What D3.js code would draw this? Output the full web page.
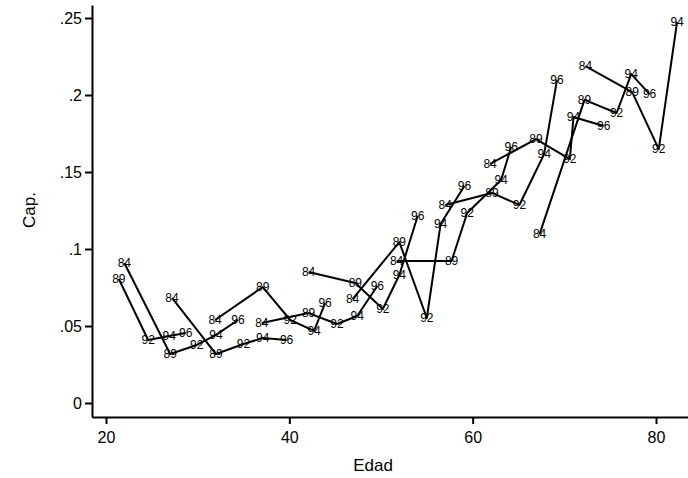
<!DOCTYPE html>
<html>
<head>
<meta charset="utf-8">
<script src="https://cdn.jsdelivr.net/npm/d3@7"></script>
<style>
  html, body { margin: 0; padding: 0; background: #fff; }
  svg { display: block; }
  text { font-family: "Liberation Sans", Arial, Helvetica, sans-serif; fill: #000; }
</style>
</head>
<body>
<svg id="chart" width="688" height="478"></svg>
<script>
// Survey years (marker labels)
const surveyYears = ["84", "89", "92", "94", "96"];

// Age (Edad) of each cohort in each survey year (null = not observed)
const edad = [
  [null, 21.4, 24.6, 26.9, 28.7],
  [22.0, 27.0, 29.9, 32.0, 34.4],
  [27.2, 32.0, 35.0, 37.1, 39.7],
  [31.9, 37.1, 40.1, 42.7, 43.9],
  [37.0, 42.1, 45.2, 47.4, 49.6],
  [42.1, 47.2, 50.2, 52.0, 54.0],
  [46.9, 52.0, 55.0, 56.5, 59.1],
  [51.7, 57.7, 59.4, 63.1, 64.2],
  [57.0, 62.1, 65.1, 67.8, 69.2],
  [61.9, 66.9, 70.6, 71.0, 74.3],
  [67.3, 72.2, 75.7, 77.3, 79.3],
  [72.3, 77.4, 80.3, 82.3, null]
];

// Cap. of each cohort in each survey year
const capValues = [
  [null, 0.0805, 0.0409, 0.0435, 0.0455],
  [0.0909, 0.0318, 0.0377, 0.0442, 0.0539],
  [0.0682, 0.0318, 0.0383, 0.0422, 0.0409],
  [0.0539, 0.0753, 0.0539, 0.0468, 0.0649],
  [0.0519, 0.0584, 0.0513, 0.0565, 0.0760],
  [0.0851, 0.0779, 0.0610, 0.0831, 0.1214],
  [0.0675, 0.1045, 0.0552, 0.1162, 0.1409],
  [0.0922, 0.0922, 0.1234, 0.1448, 0.1662],
  [0.1286, 0.1364, 0.1286, 0.1617, 0.2097],
  [0.1552, 0.1714, 0.1584, 0.1857, 0.1799],
  [0.1097, 0.1968, 0.1883, 0.2136, 0.2006],
  [0.2188, 0.2019, 0.1649, 0.2474, null]
];

const xTicks = [20, 40, 60, 80];
const yTicks = [0, 0.05, 0.1, 0.15, 0.2, 0.25];
const yTickLabels = ["0", ".05", ".1", ".15", ".2", ".25"];
const xTitle = "Edad";
const yTitle = "Cap.";

const svg = d3.select("#chart");

// Scales: 20 -> 106px, 80 -> 656px ; 0 -> 403px, .25 -> 18px
const xBase = d3.scaleLinear().domain([20, 80]).range([106, 656]);
const yBase = d3.scaleLinear().domain([0, 0.25]).range([403, 18]);
const x = d3.scaleLinear().domain([xBase.invert(92), xBase.invert(688)]).range([92, 688]);
const y = d3.scaleLinear().domain([yBase.invert(417), yBase.invert(5)]).range([417, 5]);

// X axis
const xAxis = d3.axisBottom(x).tickValues(xTicks).tickSize(7).tickSizeOuter(0).tickPadding(8)
  .tickFormat(d3.format("d"));
const gx = svg.append("g").attr("transform", "translate(0,417)").call(xAxis);
gx.selectAll("path, line").attr("stroke", "#000").attr("stroke-width", 2);
gx.selectAll("text").style("font-size", "16px").attr("fill", "#000");

// Y axis
const yAxis = d3.axisLeft(y).tickValues(yTicks).tickSize(7).tickSizeOuter(0).tickPadding(3)
  .tickFormat((d, i) => yTickLabels[i]);
const gy = svg.append("g").attr("transform", "translate(92,0)").call(yAxis);
gy.selectAll("path, line").attr("stroke", "#000").attr("stroke-width", 2);
gy.selectAll("text").style("font-size", "16px").attr("fill", "#000");

// Axis titles
svg.append("text").attr("x", 373).attr("y", 471).attr("text-anchor", "middle")
  .style("font-size", "17px").text(xTitle);
svg.append("text").attr("transform", "translate(35,210) rotate(-90)").attr("text-anchor", "middle")
  .style("font-size", "17px").text(yTitle);

// Build cohort point lists
const cohorts = edad.map((ages, ci) => ages.map((a, k) => ({
  age: a, cap: capValues[ci][k], label: surveyYears[k]
})).filter(p => p.age !== null && p.cap !== null));

const line = d3.line().x(d => x(d.age)).y(d => y(d.cap));

svg.append("g").selectAll("path").data(cohorts).join("path")
  .attr("d", line)
  .attr("fill", "none")
  .attr("stroke", "#000")
  .attr("stroke-width", 2)
  .attr("stroke-linejoin", "round");

svg.append("g").selectAll("text").data(cohorts.flat()).join("text")
  .attr("x", d => x(d.age))
  .attr("y", d => y(d.cap))
  .attr("text-anchor", "middle")
  .attr("dy", "0.36em")
  .style("font-size", "12px")
  .text(d => d.label);
</script>
</body>
</html>
